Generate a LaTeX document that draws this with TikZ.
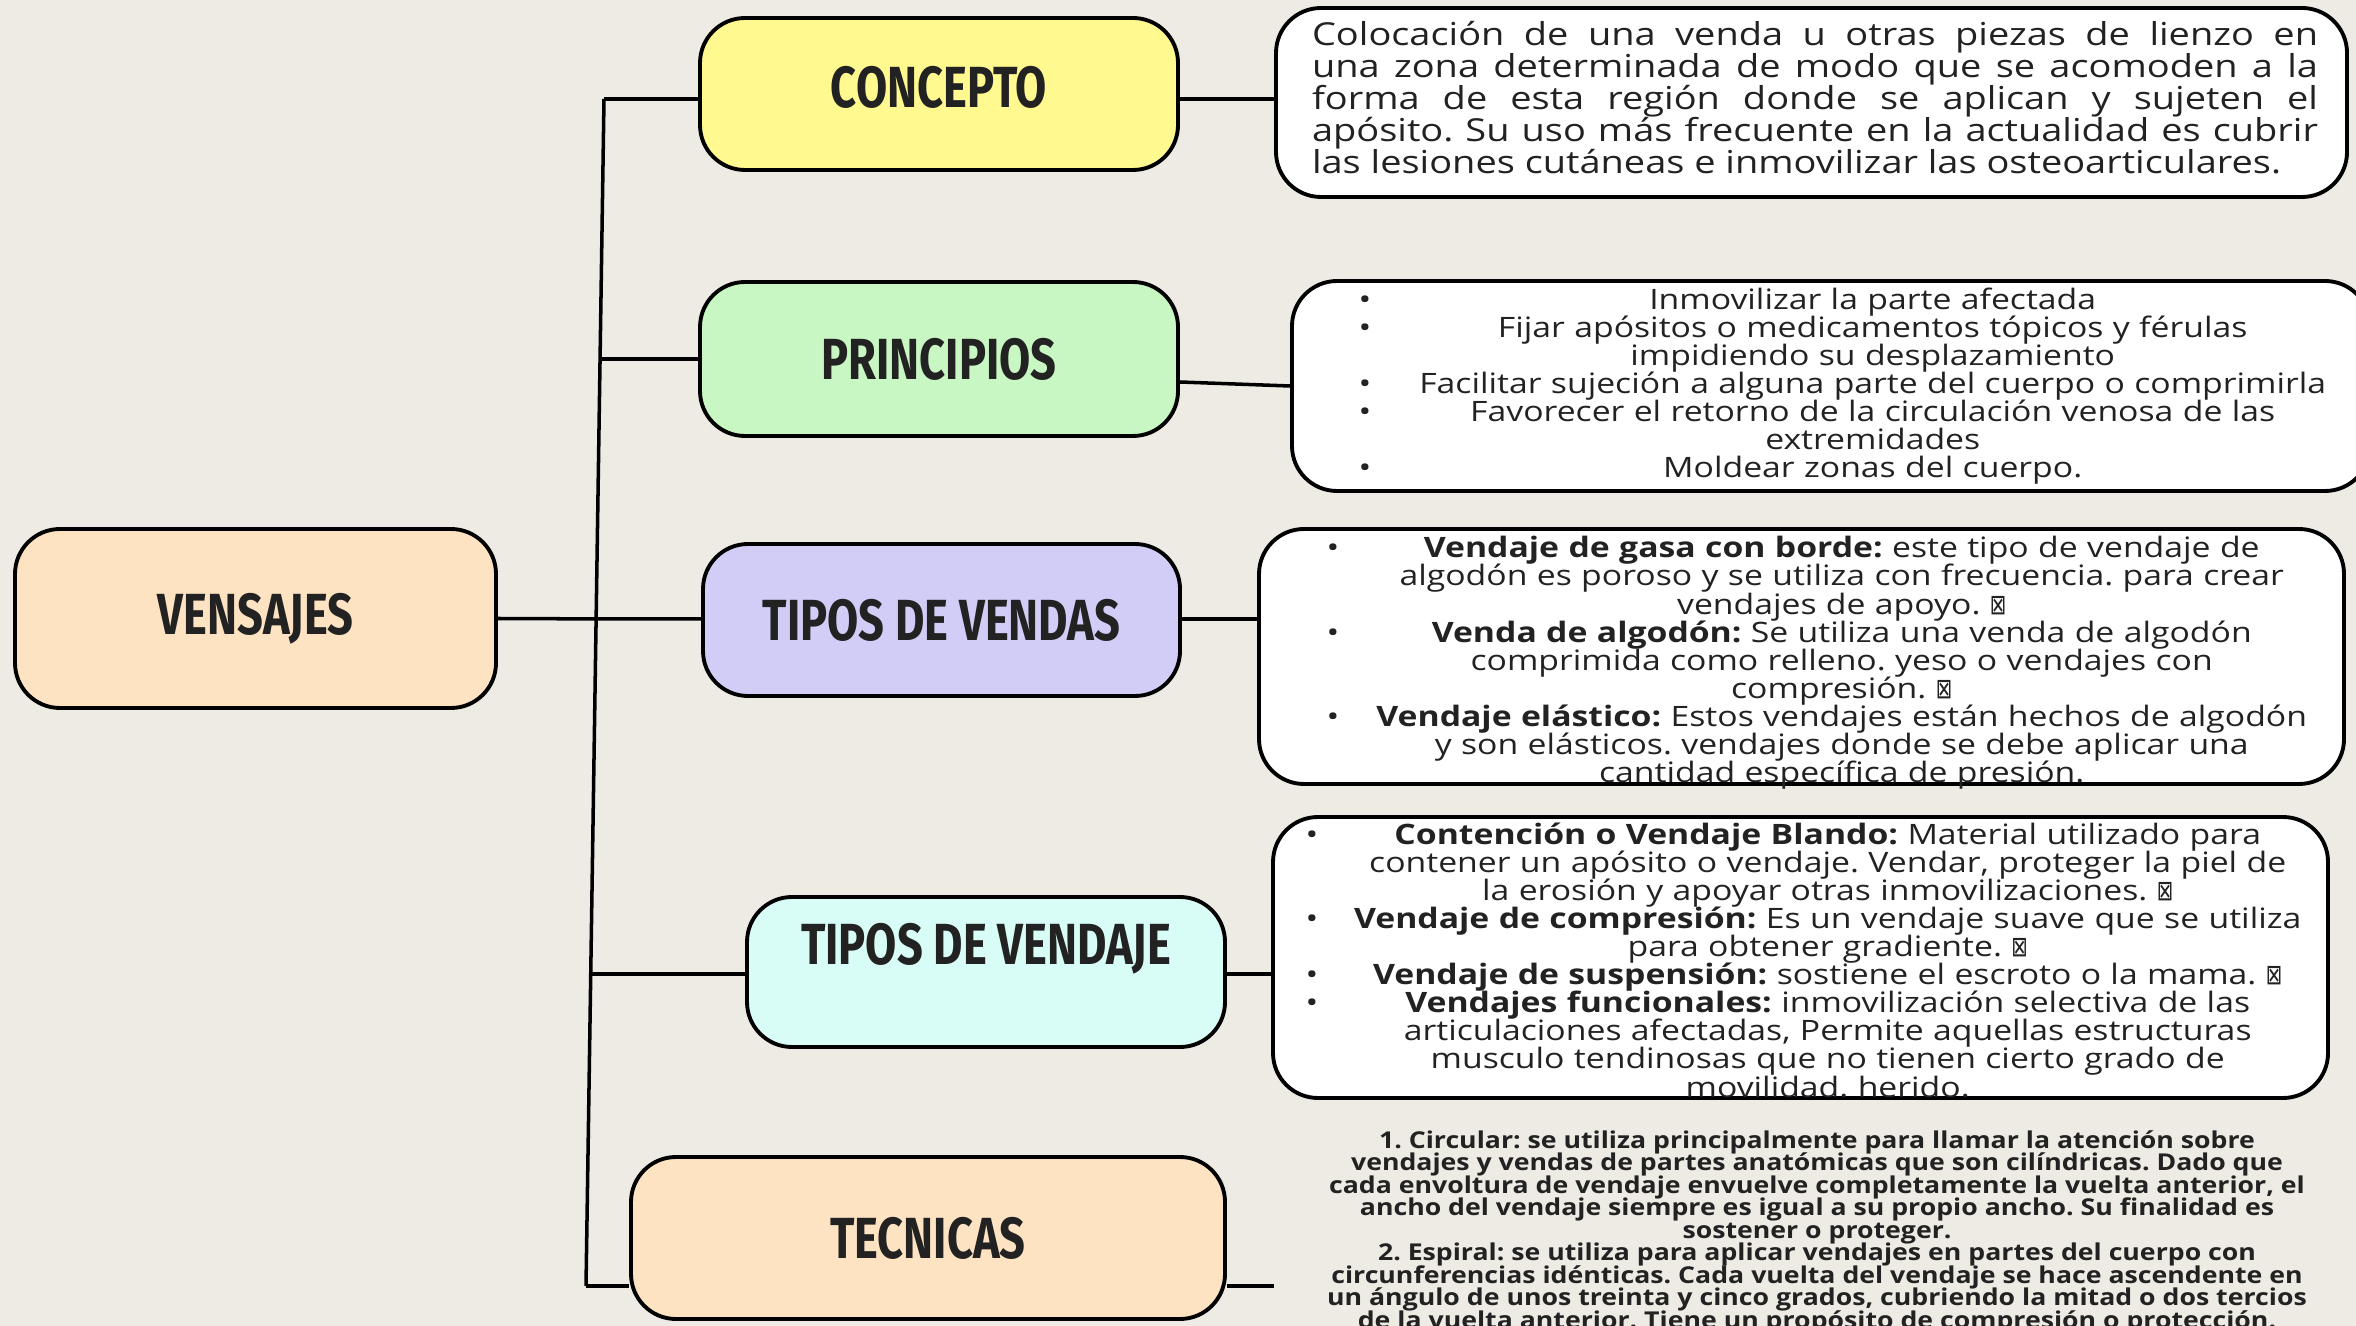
\documentclass[tikz,border=0pt]{standalone}
\usepackage{xcolor}
\usepackage{fontspec}
\setmainfont[FakeStretch=1.2]{Open Sans}
\newfontfamily\headfont[FakeStretch=0.78]{Fira Sans}
\newfontfamily\tecfont[FakeStretch=1.15]{Open Sans}
\newfontfamily\symfont{DejaVu Sans}
\usepackage{tikz}
\usetikzlibrary{calc}

\definecolor{paper}{HTML}{EEEBE5}
\definecolor{cYellow}{HTML}{FFF98F}
\definecolor{cGreen}{HTML}{C9F7C4}
\definecolor{cLilac}{HTML}{D2CDF7}
\definecolor{cCyan}{HTML}{D8FCF6}
\definecolor{cPeach}{HTML}{FEE3C3}
\definecolor{ink}{HTML}{222222}

\newlength\bcol
\newlength\itemw
\newlength\itemskip
\newcommand\tight{\lineskiplimit=-20pt\relax}
\newcommand\bitem[1]{\noindent\makebox[\bcol][l]{\textbullet}%
  \parbox[t]{\itemw}{\baselineskip=\itemskip\tight\centering #1\par\xdef\lastpd{\the\prevdepth}}%
  \par\prevdepth=\lastpd\relax}
\newcommand\tofu{{\symfont\scalebox{0.7}[1]{⊠}}}

\begin{document}
\frenchspacing
\begin{tikzpicture}[
    HeadStyle/.style = {draw, line width=1.1pt, rounded corners=0.45cm, inner sep=0pt, text=ink,
                        font=\headfont\bfseries\fontsize{16.5}{17}\selectfont},
    InfoStyle/.style = {draw, line width=1.1pt, fill=white, rounded corners=0.45cm, inner sep=0pt},
    TextStyle/.style = {inner sep=0pt, text=ink},
    EdgeStyle/.style = {line width=1pt}
  ]
    \fill[paper] (0,0) rectangle (23.56,-13.26);
    \useasboundingbox (0,0) rectangle (23.56,-13.26);

    % main topic and branches
    \node[HeadStyle, fill=cPeach, minimum width=4.81cm, minimum height=1.79cm] (VS) at (2.555,-6.185) {VENSAJES};
    \node[HeadStyle, fill=cYellow, minimum width=4.78cm, minimum height=1.52cm] (CO) at (9.39,-0.94) {\raisebox{4pt}{CONCEPTO}};
    \node[HeadStyle, fill=cGreen, minimum width=4.78cm, minimum height=1.54cm] (PR) at (9.39,-3.59) {PRINCIPIOS};
    \node[HeadStyle, fill=cLilac, minimum width=4.77cm, minimum height=1.52cm] (TV) at (9.415,-6.20) {TIPOS DE VENDAS};
    \node[HeadStyle, fill=cCyan, minimum width=4.78cm, minimum height=1.50cm] (TJ) at (9.86,-9.72) {\raisebox{16pt}{TIPOS DE VENDAJE}};
    \node[HeadStyle, fill=cPeach, minimum width=5.94cm, minimum height=1.62cm] (TE) at (9.28,-12.38) {TECNICAS};

    % boxes on the right
    \node[InfoStyle, minimum width=10.71cm, minimum height=1.89cm] (D1) at (18.115,-1.025) {};
    \node[InfoStyle, minimum width=10.78cm, minimum height=2.10cm] (D2) at (18.31,-3.86) {};
    \node[InfoStyle, minimum width=10.85cm, minimum height=2.55cm] (D3) at (18.015,-6.565) {};
    \node[InfoStyle, minimum width=10.55cm, minimum height=2.81cm] (D4) at (18.005,-9.575) {};

    \node[TextStyle, text width=10.06cm, align=justify, font=\fontsize{9.0}{9.1}\selectfont\tight] (T1) at (18.15,-0.98)
      {Colocación de una venda u otras piezas de lienzo en\linebreak
       una zona determinada de modo que se acomoden a la\linebreak
       forma de esta región donde se aplican y sujeten el\linebreak
       apósito. Su uso más frecuente en la actualidad es cubrir\linebreak
       las lesiones cutáneas e inmovilizar las osteoarticulares.};

    \node[TextStyle, anchor=west, text width=9.98cm, font=\fontsize{8.0}{8}\selectfont\tight] (T2) at (13.58,-3.86)
      {\setlength\bcol{0.30cm}\setlength\itemw{9.68cm}\setlength\itemskip{8pt}%
       \bitem{Inmovilizar la parte afectada}
       \bitem{Fijar apósitos o medicamentos tópicos y férulas\\ impidiendo su desplazamiento}
       \bitem{Facilitar sujeción a alguna parte del cuerpo o comprimirla}
       \bitem{Favorecer el retorno de la circulación venosa de las\\ extremidades}
       \bitem{Moldear zonas del cuerpo.}};

    \node[TextStyle, anchor=west, text width=10.00cm, font=\fontsize{8.0}{8}\selectfont\tight] (T3) at (13.26,-6.63)
      {\setlength\bcol{0.30cm}\setlength\itemw{9.70cm}\setlength\itemskip{8pt}%
       \bitem{\textbf{Vendaje de gasa con borde:} este tipo de vendaje de\\ algodón es poroso y se utiliza con frecuencia. para crear\\ vendajes de apoyo. \tofu}
       \bitem{\textbf{Venda de algodón:} Se utiliza una venda de algodón\\ comprimida como relleno. yeso o vendajes con\\ compresión. \tofu}
       \bitem{\textbf{Vendaje elástico:} Estos vendajes están hechos de algodón\\ y son elásticos. vendajes donde se debe aplicar una\\ cantidad específica de presión.}};

    \node[TextStyle, anchor=west, text width=10.14cm, font=\fontsize{8.0}{8}\selectfont\tight] (T4) at (13.05,-9.60)
      {\setlength\bcol{0.30cm}\setlength\itemw{9.84cm}\setlength\itemskip{8pt}%
       \bitem{\textbf{Contención o Vendaje Blando:} Material utilizado para\\ contener un apósito o vendaje. Vendar, proteger la piel de\\ la erosión y apoyar otras inmovilizaciones. \tofu}
       \bitem{\textbf{Vendaje de compresión:} Es un vendaje suave que se utiliza\\ para obtener gradiente. \tofu}
       \bitem{\textbf{Vendaje de suspensión:} sostiene el escroto o la mama. \tofu}
       \bitem{\textbf{Vendajes funcionales:} inmovilización selectiva de las\\ articulaciones afectadas, Permite aquellas estructuras\\ musculo tendinosas que no tienen cierto grado de\\ movilidad. herido.}};

    \node[TextStyle, anchor=north, align=center, font=\tecfont\bfseries\fontsize{6.6}{6.4}\selectfont\tight] (T5) at (18.17,-11.30)
      {1. Circular: se utiliza principalmente para llamar la atención sobre\\
       vendajes y vendas de partes anatómicas que son cilíndricas. Dado que\\
       cada envoltura de vendaje envuelve completamente la vuelta anterior, el\\
       ancho del vendaje siempre es igual a su propio ancho. Su finalidad es\\
       sostener o proteger.\\
       2. Espiral: se utiliza para aplicar vendajes en partes del cuerpo con\\
       circunferencias idénticas. Cada vuelta del vendaje se hace ascendente en\\
       un ángulo de unos treinta y cinco grados, cubriendo la mitad o dos tercios\\
       de la vuelta anterior. Tiene un propósito de compresión o protección.};

    % trunk
    \coordinate (K1) at (6.04,-0.99);
    \coordinate (K5) at (5.86,-12.86);
    \coordinate (K2) at ($(K1)!0.219!(K5)$);
    \coordinate (K3) at ($(K1)!0.438!(K5)$);
    \coordinate (K4) at ($(K1)!0.737!(K5)$);
    \coordinate (K6) at (12.74,-12.86);

    \draw[EdgeStyle] (K1) -- (K5);
    \draw[EdgeStyle] (VS.east) -- (K3) -- (K3 -| TV.west);
    \draw[EdgeStyle] (K1) -- (K1 -| CO.west);
    \draw[EdgeStyle] (K2) -- (K2 -| PR.west);
    \draw[EdgeStyle] (K4) -- (K4 -| TJ.west);
    \draw[EdgeStyle] (K5) -- (K5 -| TE.west);

    \draw[EdgeStyle] (CO.east |- K1) -- (K1 -| D1.west);
    \draw[EdgeStyle] ([yshift=-0.23cm]PR.east) -- (D2.west);
    \draw[EdgeStyle] (TV.east |- K3) -- (K3 -| D3.west);
    \draw[EdgeStyle] (TJ.east |- K4) -- (K4 -| D4.west);
    \draw[EdgeStyle] (TE.east |- K5) -- (K6);
\end{tikzpicture}
\end{document}
